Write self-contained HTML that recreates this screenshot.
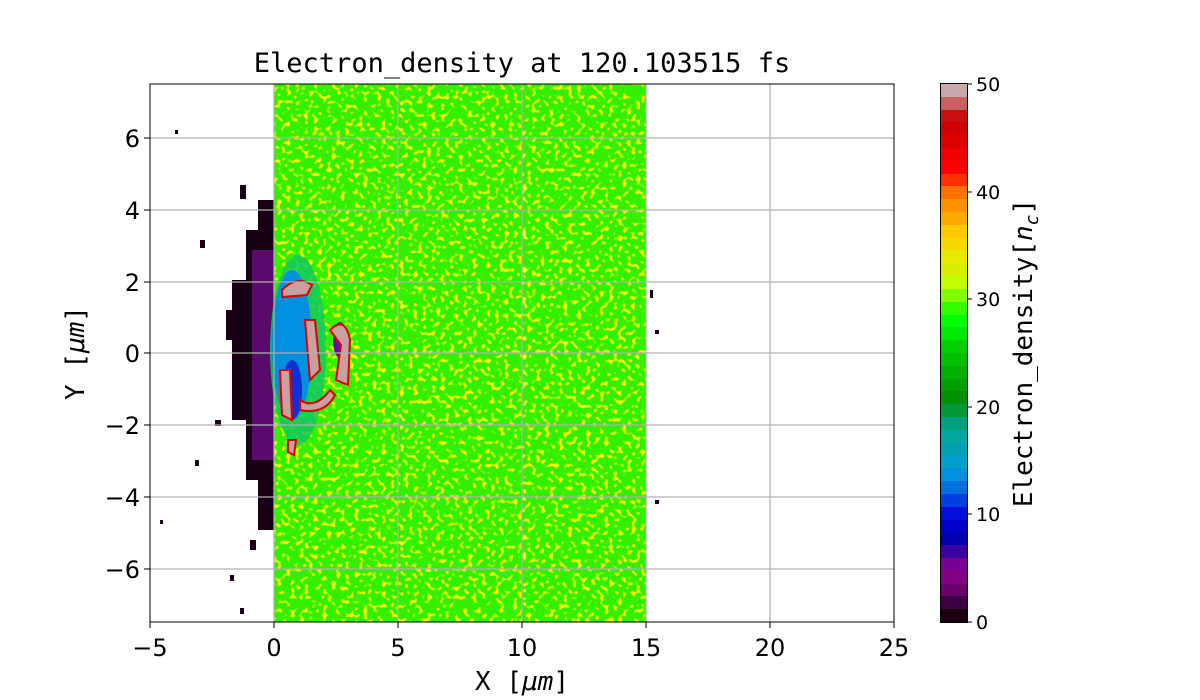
<!DOCTYPE html>
<html><head><style>
body{margin:0;width:1200px;height:700px;background:#fff;position:relative;overflow:hidden;font-family:"DejaVu Sans","Liberation Sans",sans-serif}
.t{position:absolute;color:#000}
.cb{position:absolute;left:941px;top:84px;width:26px;height:538px;display:flex;flex-direction:column-reverse;outline:1px solid #000}
.cb div{flex:1}
</style></head><body>
<div class="t" style="left:0;width:1044px;top:48px;text-align:center;font-family:'DejaVu Sans Mono','Liberation Mono',monospace;font-size:27px">Electron_density at 120.103515 fs</div>
<svg style="position:absolute;left:0;top:0" width="1200" height="700">
<defs>
<filter id="tx" x="0" y="0" width="100%" height="100%">
<feTurbulence type="fractalNoise" baseFrequency="0.22" numOctaves="1" seed="3" result="n"/>
<feColorMatrix in="n" type="matrix" values="0 0 0 0 0.95  0 0 0 0 0.95  0 0 0 0 0  0 0 0 7 -3.9" result="y"/>
<feComposite in="y" in2="SourceGraphic" operator="atop"/>
</filter>
</defs>
<rect x="150" y="84" width="744" height="538" fill="#fff"/>
<g fill="#1a0016">
<rect x="258" y="200" width="16" height="330"/>
<rect x="246" y="230" width="14" height="250"/>
<rect x="232" y="280" width="16" height="140"/>
<rect x="226" y="310" width="8" height="30"/>
<rect x="240" y="185" width="6" height="14"/><rect x="200" y="240" width="5" height="8"/>
<rect x="215" y="420" width="6" height="6"/><rect x="195" y="460" width="4" height="6"/>
<rect x="250" y="540" width="6" height="10"/><rect x="230" y="575" width="4" height="6"/>
<rect x="160" y="520" width="3" height="4"/><rect x="175" y="130" width="3" height="4"/>
<rect x="240" y="608" width="4" height="6"/><rect x="650" y="290" width="3" height="8"/>
<rect x="655" y="330" width="4" height="4"/><rect x="655" y="500" width="4" height="4"/>
</g>
<rect x="252" y="250" width="22" height="210" fill="#5a0a6a"/>
<rect x="274" y="84" width="372" height="538" fill="#30f000" filter="url(#tx)"/>
<ellipse cx="298" cy="350" rx="28" ry="95" fill="#10c860" opacity="0.85"/>
<ellipse cx="292" cy="345" rx="20" ry="75" fill="#0090e0"/>
<ellipse cx="292" cy="390" rx="10" ry="30" fill="#1030d0"/>
<ellipse cx="340" cy="340" rx="7" ry="18" fill="#6010a0"/>
<g fill="#c8a0a0" stroke="#e00000" stroke-width="2">
<path d="M282 290 q15 -15 30 -5 l-5 10 -25 2z"/>
<path d="M305 320 l10 0 5 50 -10 10z"/>
<path d="M330 330 q15 -15 20 10 l-2 45 -12 -5 5 -35z"/>
<path d="M280 370 l10 0 2 50 -10 -5z"/>
<path d="M300 400 q15 10 30 -10 l5 5 q-10 20 -35 15z"/>
<path d="M288 440 l8 0 -2 15 -6 -3z"/>
</g>
<g stroke="#b0b0b0" stroke-width="1.2">
<line x1="274" y1="84" x2="274" y2="622"/><line x1="398" y1="84" x2="398" y2="622"/>
<line x1="522" y1="84" x2="522" y2="622"/><line x1="646" y1="84" x2="646" y2="622"/>
<line x1="770" y1="84" x2="770" y2="622"/>
<line x1="150" y1="138" x2="894" y2="138"/><line x1="150" y1="210" x2="894" y2="210"/>
<line x1="150" y1="282" x2="894" y2="282"/><line x1="150" y1="353" x2="894" y2="353"/>
<line x1="150" y1="425" x2="894" y2="425"/><line x1="150" y1="497" x2="894" y2="497"/>
<line x1="150" y1="569" x2="894" y2="569"/>
</g>
<rect x="150" y="84" width="744" height="538" fill="none" stroke="#000" stroke-width="1"/>
<g stroke="#000">
<line x1="150" y1="622" x2="150" y2="628"/><line x1="274" y1="622" x2="274" y2="628"/><line x1="398" y1="622" x2="398" y2="628"/><line x1="522" y1="622" x2="522" y2="628"/><line x1="646" y1="622" x2="646" y2="628"/><line x1="770" y1="622" x2="770" y2="628"/><line x1="894" y1="622" x2="894" y2="628"/>
<line x1="144" y1="138" x2="150" y2="138"/><line x1="144" y1="210" x2="150" y2="210"/><line x1="144" y1="282" x2="150" y2="282"/><line x1="144" y1="353" x2="150" y2="353"/><line x1="144" y1="425" x2="150" y2="425"/><line x1="144" y1="497" x2="150" y2="497"/><line x1="144" y1="569" x2="150" y2="569"/>
<line x1="967" y1="622" x2="972" y2="622"/><line x1="967" y1="514" x2="972" y2="514"/><line x1="967" y1="407" x2="972" y2="407"/><line x1="967" y1="299" x2="972" y2="299"/><line x1="967" y1="192" x2="972" y2="192"/><line x1="967" y1="84" x2="972" y2="84"/>
</g>
<g font-size="24" text-anchor="middle" font-family="DejaVu Sans,Liberation Sans,sans-serif">
<text x="150" y="656">−5</text><text x="274" y="656">0</text><text x="398" y="656">5</text><text x="522" y="656">10</text><text x="646" y="656">15</text><text x="770" y="656">20</text><text x="894" y="656">25</text>
</g>
<g font-size="24" text-anchor="end" font-family="DejaVu Sans,Liberation Sans,sans-serif">
<text x="140" y="147">6</text><text x="140" y="219">4</text><text x="140" y="291">2</text><text x="140" y="362">0</text><text x="140" y="434">−2</text><text x="140" y="506">−4</text><text x="140" y="578">−6</text>
</g>
<g font-size="19" font-family="DejaVu Sans,Liberation Sans,sans-serif">
<text x="976" y="629">0</text><text x="976" y="521">10</text><text x="976" y="414">20</text><text x="976" y="306">30</text><text x="976" y="199">40</text><text x="976" y="91">50</text>
</g>
<text x="522" y="690" font-size="26" text-anchor="middle" font-family="DejaVu Sans Mono,Liberation Mono,monospace">X [<tspan font-style="italic">μm</tspan>]</text>
<text transform="translate(84,353) rotate(-90)" font-size="26" text-anchor="middle" font-family="DejaVu Sans Mono,Liberation Mono,monospace">Y [<tspan font-style="italic">μm</tspan>]</text>
<text transform="translate(1032,353) rotate(-90)" font-size="26" text-anchor="middle" font-family="DejaVu Sans Mono,Liberation Mono,monospace">Electron_density[<tspan font-style="italic">n</tspan><tspan font-size="18" dy="6" font-style="italic">c</tspan><tspan dy="-6">]</tspan></text>
</svg>
<div class="cb">
<div style="background:#1a0010"></div><div style="background:#3d0040"></div><div style="background:#6a006a"></div><div style="background:#800080"></div><div style="background:#780090"></div><div style="background:#3a00a0"></div><div style="background:#0000b0"></div><div style="background:#0000c8"></div><div style="background:#0010d8"></div><div style="background:#0040e0"></div><div style="background:#0070dd"></div><div style="background:#0090dd"></div><div style="background:#00a0cc"></div><div style="background:#00a0b0"></div><div style="background:#00a8a0"></div><div style="background:#00a080"></div><div style="background:#009838"></div><div style="background:#009000"></div><div style="background:#00a000"></div><div style="background:#00b000"></div><div style="background:#00c000"></div><div style="background:#00d000"></div><div style="background:#00e800"></div><div style="background:#00ff00"></div><div style="background:#30ff00"></div><div style="background:#80ff00"></div><div style="background:#c0ff00"></div><div style="background:#d8f000"></div><div style="background:#e8e800"></div><div style="background:#f8d800"></div><div style="background:#ffc800"></div><div style="background:#ffa800"></div><div style="background:#ff9000"></div><div style="background:#ff7000"></div><div style="background:#ff3000"></div><div style="background:#ff0000"></div><div style="background:#f00000"></div><div style="background:#e00000"></div><div style="background:#d00000"></div><div style="background:#c81010"></div><div style="background:#c86060"></div><div style="background:#c8a8a8"></div>
</div>
</body></html>
